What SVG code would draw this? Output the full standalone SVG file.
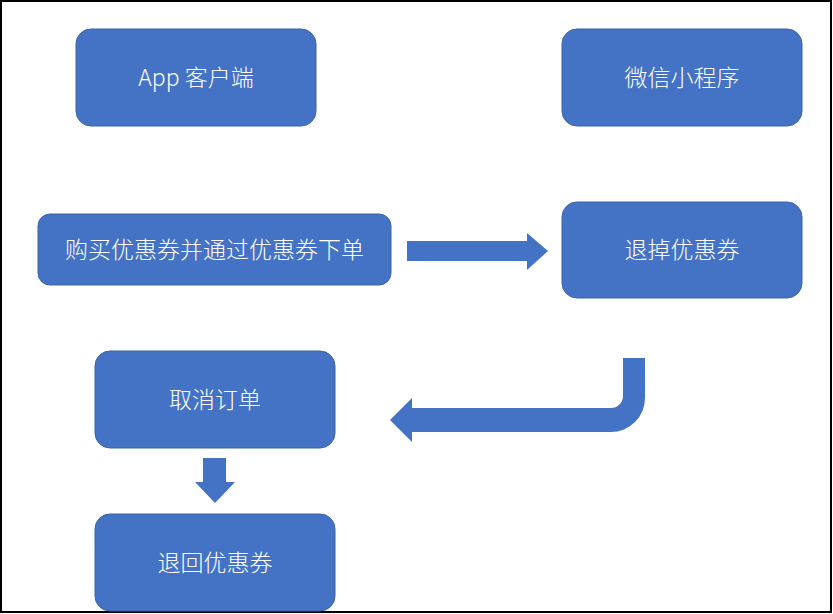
<svg xmlns="http://www.w3.org/2000/svg" width="833" height="614" viewBox="0 0 833 614">
<style>
.b{fill:#4472C4;stroke:#3A62A8;stroke-width:1}
.t{fill:#fff;font-family:"Noto Sans CJK SC","Liberation Sans",sans-serif;font-size:23px;font-weight:300;text-anchor:middle;dominant-baseline:central}
.a{fill:#4472C4}
</style>
<rect x="0" y="0" width="833" height="614" fill="#fff"/>
<rect x="1" y="1" width="830" height="611" fill="none" stroke="#000" stroke-width="2"/>
<g id="app"><rect class="b" x="76" y="29" width="240" height="97" rx="15"/><text class="t" x="196" y="75.5">App 客户端</text></g>
<g id="wx"><rect class="b" x="562" y="29" width="240" height="97" rx="15"/><text class="t" x="682" y="75.5">微信小程序</text></g>
<g id="buy"><rect class="b" x="38" y="214" width="353" height="71" rx="12"/><text class="t" x="214.5" y="247.5">购买优惠券并通过优惠券下单</text></g>
<g id="refund"><rect class="b" x="562" y="202" width="240" height="96" rx="15"/><text class="t" x="682" y="248">退掉优惠券</text></g>
<g id="cancel"><rect class="b" x="95" y="351" width="240" height="97" rx="15"/><text class="t" x="215" y="397.5">取消订单</text></g>
<g id="return"><rect class="b" x="95" y="514" width="240" height="97" rx="15"/><text class="t" x="215" y="560.5">退回优惠券</text></g>
<g id="connectors">
<path class="a" d="M407 241 H527 V233 L548 251 L527 270 V261 H407 Z"/>
<path class="a" d="M623 358 H645 V398 A34 34 0 0 1 611 432 H412 V442 L390 420 L412 398 V408 H611 A12 12 0 0 0 623 396 Z"/>
<path class="a" d="M203 458 H226 V482 H235 L215 503 L195 482 H203 Z"/>
</g>
</svg>
